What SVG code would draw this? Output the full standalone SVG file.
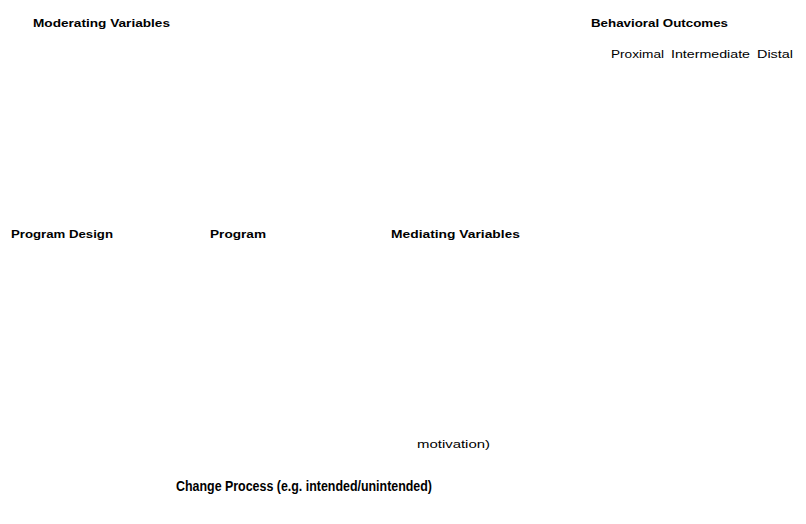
<svg xmlns="http://www.w3.org/2000/svg" width="806" height="524" viewBox="0 0 806 524">
<style>
text{font-family:"Liberation Sans",Arial,sans-serif;fill:#000}
.b{font-weight:bold;font-size:11.5px}
.r{font-size:11.5px}
.big{font-weight:bold;font-size:14.5px}
</style>
<rect width="806" height="524" fill="#fff"/>
<g id="moderating"><text class="b" x="33" y="27" textLength="137" lengthAdjust="spacingAndGlyphs">Moderating Variables</text></g>
<g id="behavioral"><text class="b" x="591" y="27" textLength="137" lengthAdjust="spacingAndGlyphs">Behavioral Outcomes</text></g>
<g id="stages">
<text class="r" x="611" y="58" textLength="53" lengthAdjust="spacingAndGlyphs">Proximal</text>
<text class="r" x="671" y="58" textLength="79" lengthAdjust="spacingAndGlyphs">Intermediate</text>
<text class="r" x="757" y="58" textLength="36" lengthAdjust="spacingAndGlyphs">Distal</text>
</g>
<g id="design"><text class="b" x="11" y="238" textLength="102" lengthAdjust="spacingAndGlyphs">Program Design</text></g>
<g id="program"><text class="b" x="210" y="238" textLength="56" lengthAdjust="spacingAndGlyphs">Program</text></g>
<g id="mediating"><text class="b" x="391" y="238" textLength="129" lengthAdjust="spacingAndGlyphs">Mediating Variables</text></g>
<g id="motivation"><text class="r" x="417" y="448" font-size="10.5" textLength="73" lengthAdjust="spacingAndGlyphs">motivation)</text></g>
<g id="change"><text class="big" x="176" y="491" textLength="256" lengthAdjust="spacingAndGlyphs">Change Process (e.g. intended/unintended)</text></g>
<g id="connectors"></g>
</svg>
